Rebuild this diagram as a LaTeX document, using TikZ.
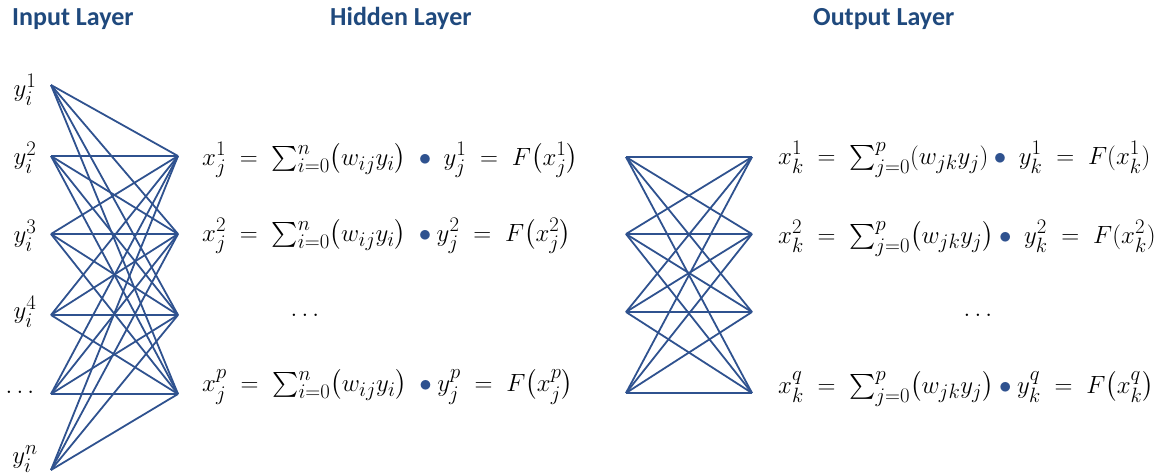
\documentclass[tikz,border=0pt]{standalone}
\usepackage{fontspec}
\usepackage{amsmath}
\newfontfamily\titlefont{Carlito}
\definecolor{netblue}{RGB}{47,82,143}
\definecolor{titleblue}{RGB}{31,73,125}
\newcommand{\netdot}{\mathbin{\textcolor{netblue}{\bullet}}}

\begin{document}
\begin{tikzpicture}[
    x=1pt, y=-1pt,
    every node/.style={inner sep=0pt, font=\fontsize{24.88}{30}\selectfont},
    link/.style={draw=netblue, line width=1.8pt},
    layertitle/.style={anchor=base west, text=titleblue, font=\fontsize{26}{30}\selectfont\titlefont\bfseries},
    eqn/.style={anchor=base west}
]
  \useasboundingbox (0,0) rectangle (1162,475);

  % Titles
  \node[layertitle] (tin) at (12,25) {Input Layer};
  \node[layertitle] (thid) at (330,25) {Hidden Layer};
  \node[layertitle] (tout) at (813,25) {Output Layer};

  % Input layer points and labels
  \foreach \i/\y in {1/85, 2/156, 3/234, 4/315, 5/394, 6/470}
    \coordinate (in\i) at (51,\y);
  \node (lin1) at (25,90) {$y_i^1$};
  \node (lin2) at (25,158) {$y_i^2$};
  \node (lin3) at (25,236) {$y_i^3$};
  \node (lin4) at (25,312) {$y_i^4$};
  \node (lin5) at (22,392) {$\dots$};
  \node (lin6) at (25,459) {$y_i^n$};

  % Hidden layer points
  \foreach \j/\y in {1/156, 2/234, 3/315, 4/394}
    \coordinate (hid\j) at (178,\y);

  % Second network: hidden outputs -> output layer
  \foreach \j/\y in {1/157, 2/234, 3/312, 4/393} {
    \coordinate (hl\j) at (626,\y);
    \coordinate (ol\j) at (752,\y);
  }

  % Connections
  \foreach \i in {1,...,6}
    \foreach \j in {1,...,4}
      \draw[link] (in\i) -- (hid\j);
  \foreach \i in {1,...,4}
    \foreach \j in {1,...,4}
      \draw[link] (hl\i) -- (ol\j);

  % Hidden layer equations
  \node[eqn] (eh1) at (202,165) {$x_j^1 \;=\; \textstyle\sum_{i=0}^{n}\bigl(w_{ij}y_i\bigr) \;\netdot\; y_j^1 \;=\; F\bigl(x_j^1\bigr)$};
  \node[eqn] (eh2) at (202,241) {$x_j^2 \;=\; \textstyle\sum_{i=0}^{n}\bigl(w_{ij}y_i\bigr) \;\netdot y_j^2 \;=\; F\bigl(x_j^2\bigr)$};
  \node (eh3) at (307,315) {$\dots$};
  \node[eqn] (eh4) at (202,391) {$x_j^p \;=\; \textstyle\sum_{i=0}^{n}\bigl(w_{ij}y_i\bigr) \;\netdot y_j^p \;=\; F\bigl(x_j^p\bigr)$};

  % Output layer equations
  \node[eqn] (eo1) at (778,164) {$x_k^1 \;=\; \textstyle\sum_{j=0}^{p}(w_{jk}y_j) \netdot\; y_k^1 \;=\; F(x_k^1)$};
  \node[eqn] (eo2) at (778,243) {$x_k^2 \;=\; \textstyle\sum_{j=0}^{p}\bigl(w_{jk}y_j\bigr) \netdot\; y_k^2 \;=\; F(x_k^2)$};
  \node (eo3) at (980,315) {$\dots$};
  \node[eqn] (eo4) at (778,393) {$x_k^q \;=\; \textstyle\sum_{j=0}^{p}\bigl(w_{jk}y_j\bigr) \netdot y_k^q \;=\; F\bigl(x_k^q\bigr)$};
\end{tikzpicture}
\end{document}
